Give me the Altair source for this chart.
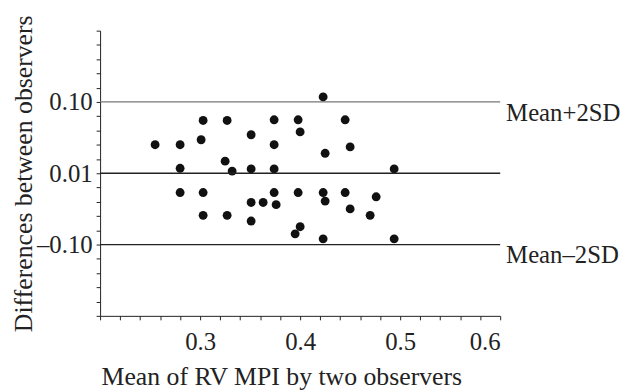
import altair as alt
import pandas as pd

# Data
mean_rv_mpi = [0.255, 0.280, 0.280, 0.280, 0.303, 0.301, 0.303, 0.303, 0.327, 0.325,
               0.332, 0.327, 0.351, 0.351, 0.351, 0.351, 0.363, 0.374, 0.374, 0.374,
               0.374, 0.376, 0.398, 0.400, 0.398, 0.400, 0.395, 0.423, 0.425, 0.423,
               0.425, 0.423, 0.445, 0.450, 0.445, 0.450, 0.476, 0.470, 0.494, 0.494]
diff_obs = [0.040, 0.040, 0.007, -0.027, 0.074, 0.047, -0.027, -0.059, 0.074, 0.017,
            0.003, -0.059, 0.054, 0.006, -0.041, -0.067, -0.041, 0.075, 0.040, 0.006,
            -0.027, -0.044, 0.075, 0.058, -0.027, -0.075, -0.085, 0.107, 0.028, -0.027,
            -0.039, -0.092, 0.075, 0.037, -0.027, -0.050, -0.033, -0.059, 0.006, -0.092]

upper_limit = [0.1]
mean_lower = [0.0, -0.1]
limit_names = ["Mean+2SD", "Mean\u20132SD"]
limit_pos = [0.1, -0.1]

y_label_pos = [0.1, 0.0, -0.1]
y_tick_labels = ["0.10", "0.01", "\u20130.10"]
x_label_pos = [0.3, 0.4, 0.5, 0.6]
x_tick_labels = ["0.3", "0.4", "0.5", "0.6"]

x_ticks = [round(0.2 + 0.02 * i, 2) for i in range(21)]
y_ticks = [round(-0.2 + 0.02 * i, 2) for i in range(21)]


def label_expr(pos, labels):
    expr = "''"
    for p, l in reversed(list(zip(pos, labels))):
        expr = f"abs(datum.value - ({p})) < 0.001 ? '{l}' : " + expr
    return expr


FONT = "Liberation Serif"

pts = pd.DataFrame({"x": mean_rv_mpi, "y": diff_obs})
xs = alt.Scale(domain=[0.2, 0.6], nice=False)
ys = alt.Scale(domain=[-0.2, 0.2], nice=False)

x_axis = alt.Axis(values=x_ticks, labelExpr=label_expr(x_label_pos, x_tick_labels),
                  title="Mean of RV MPI by two observers", grid=False,
                  tickSize=4, labelPadding=10, titlePadding=9, labelOverlap=False,
                  titleX=183,
                  domainColor="#222", tickColor="#222",
                  labelFont=FONT, titleFont=FONT, labelFontSize=25, titleFontSize=26,
                  titleFontWeight="normal", labelColor="#222", titleColor="#222")
y_axis = alt.Axis(values=y_ticks, labelExpr=label_expr(y_label_pos, y_tick_labels),
                  title="Differences between observers", grid=False,
                  tickSize=4, labelPadding=4, titlePadding=0, labelOverlap=False,
                  domainColor="#222", tickColor="#222",
                  labelFont=FONT, titleFont=FONT, labelFontSize=25, titleFontSize=26,
                  titleFontWeight="normal", labelColor="#222", titleColor="#222")

points = alt.Chart(pts).mark_circle(size=80, color="#111", opacity=1).encode(
    x=alt.X("x:Q", scale=xs, axis=x_axis),
    y=alt.Y("y:Q", scale=ys, axis=y_axis),
)

upper = alt.Chart(pd.DataFrame({"y": upper_limit})).mark_rule(
    color="#777", strokeWidth=1.3).encode(y=alt.Y("y:Q", scale=ys, axis=y_axis))
others = alt.Chart(pd.DataFrame({"y": mean_lower})).mark_rule(
    color="#222", strokeWidth=1.3).encode(y=alt.Y("y:Q", scale=ys, axis=y_axis))

labels = alt.Chart(pd.DataFrame({"name": limit_names, "y": limit_pos})).mark_text(
    align="left", baseline="alphabetic", dx=6, dy=19, font=FONT, fontSize=25, color="#222"
).encode(
    x=alt.value(404),
    y=alt.Y("y:Q", scale=ys, axis=y_axis),
    text="name:N",
)

chart = alt.layer(points, upper, others, labels).properties(
    width=404, height=288,
    padding={"left": 2, "top": 4, "right": 0, "bottom": 0},
).configure_view(stroke=None)

chart.save("out.html", embed_options={"renderer": "svg", "actions": False})
